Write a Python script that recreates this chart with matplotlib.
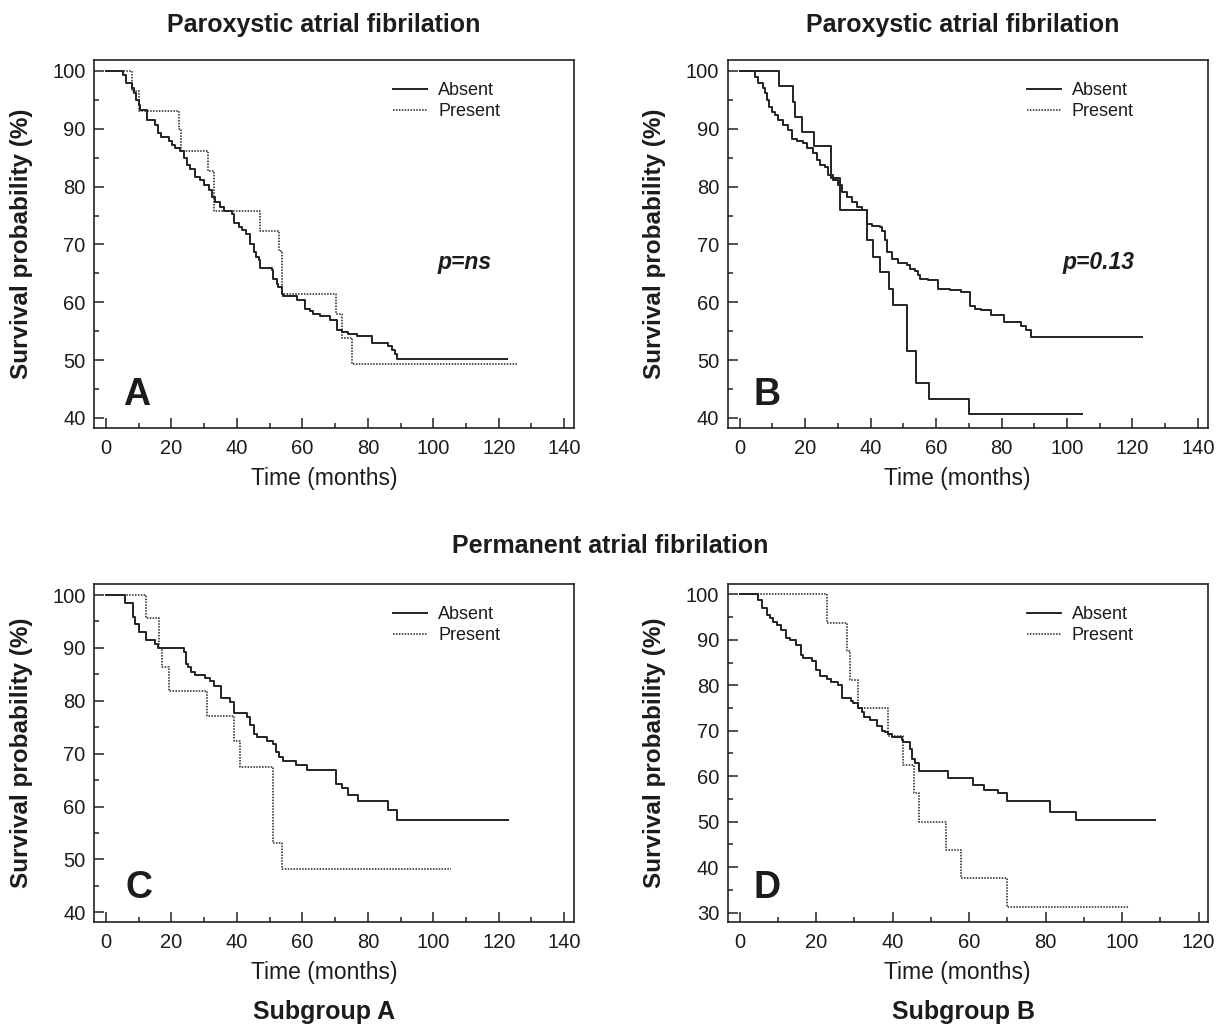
import matplotlib
matplotlib.use("Agg")
import matplotlib.pyplot as plt
from matplotlib.lines import Line2D
from matplotlib.ticker import MultipleLocator

plt.rcParams['font.family'] = ['Liberation Sans', 'DejaVu Sans']

# ---------------- data (months, survival %) ----------------
A_abs_t = [5.09, 6.21, 7.94, 8.44, 9.16, 9.97, 10.48, 12.51, 14.85, 15.87, 16.89, 19.13, 20.14,
           21.16, 22.69, 23.71, 24.72, 25.74, 27.27, 28.79, 29.81, 31.34, 32.35, 33.37, 34.90,
           35.91, 38.46, 39.17, 40.49, 41.51, 42.83, 44.05, 45.07, 45.78, 46.60, 47.10, 50.67,
           51.17, 52.19, 52.70, 53.72, 54.23, 58.30, 60.84, 62.37, 63.38, 65.42, 68.47, 70.51,
           72.03, 74.07, 76.61, 81.19, 86.27, 87.29, 88.31, 89.02]
A_abs_s = [99.31, 97.86, 97.0, 96.13, 94.98, 94.11, 93.25, 91.52, 90.65, 89.21, 88.52, 87.94, 87.19,
           86.73, 86.21, 84.88, 83.73, 82.98, 81.71, 81.13, 80.27, 79.40, 78.25, 77.38, 76.51,
           75.82, 75.25, 73.63, 73.05, 72.48, 71.90, 70.17, 68.72, 67.86, 67.28, 66.01, 65.67,
           64.11, 63.24, 62.67, 61.51, 61.05, 60.47, 58.92, 58.51, 58.05, 57.59, 57.01, 55.28,
           54.88, 54.47, 54.13, 52.97, 52.40, 51.70, 51.13, 50.14]
A_abs_end = 122.6
A_pre_t = [7.94, 9.97, 22.18, 22.89, 31.03, 33.07, 47.10, 53.0, 53.72, 70.30, 72.03, 75.08]
A_pre_s = [96.54, 93.13, 89.90, 86.21, 82.69, 75.82, 72.36, 68.90, 61.51, 57.93, 53.84, 49.28]
A_pre_end = 125.75

B_abs_t = [4.68, 5.70, 7.02, 7.73, 8.44, 8.95, 9.77, 10.78, 11.80, 13.33, 14.85, 15.87, 17.40,
           19.43, 20.45, 22.48, 23.50, 24.52, 26.05, 27.06, 28.59, 30.11, 31.34, 32.66, 34.18,
           35.71, 37.24, 38.76, 40.29, 42.83, 43.54, 44.36, 45.07, 46.39, 48.42, 50.97, 51.99,
           53.52, 54.53, 55.04, 57.58, 60.64, 64.20, 67.76, 70.30, 71.83, 73.86, 76.91, 80.78,
           85.87, 87.60, 88.92]
B_abs_s = [99.02, 97.86, 97.0, 96.13, 94.98, 93.83, 92.96, 92.38, 91.52, 90.65, 89.79, 88.23, 87.88,
           87.48, 86.61, 85.75, 84.59, 83.73, 83.44, 82.0, 81.13, 80.27, 79.11, 78.25, 77.38,
           76.51, 75.94, 73.51, 73.23, 73.05, 72.36, 70.74, 68.72, 67.57, 66.82, 66.42, 65.84,
           65.44, 64.69, 64.11, 63.82, 62.38, 62.09, 61.80, 59.32, 58.92, 58.63, 57.76, 56.61,
           55.92, 55.16, 54.01]
B_abs_end = 122.9
B_pre_t = [12.0, 16.18, 16.89, 19.13, 22.79, 27.88, 30.62, 38.76, 40.80, 42.83, 45.68, 46.70,
           50.97, 53.72, 57.79, 70.10]
B_pre_s = [97.46, 94.58, 91.98, 89.50, 87.02, 81.53, 75.94, 70.74, 67.86, 65.26, 62.38, 59.61,
           51.59, 46.11, 43.34, 40.62]
B_pre_end = 104.7

C_abs_t = [5.90, 8.24, 8.95, 9.97, 12.31, 14.85, 15.87, 23.71, 24.52, 25.03, 26.05, 27.27, 30.32,
           31.84, 33.07, 35.10, 37.95, 38.97, 43.04, 44.05, 45.07, 46.09, 49.14, 51.17, 51.89,
           53.01, 54.23, 58.09, 61.35, 70.30, 72.03, 74.07, 77.12, 86.27, 88.82]
C_abs_s = [98.42, 95.78, 94.45, 93.07, 91.49, 90.67, 90.04, 89.29, 86.95, 86.32, 85.38, 84.87, 84.24,
           83.74, 82.86, 80.47, 79.71, 77.63, 76.87, 75.42, 73.72, 73.09, 72.46, 71.83, 70.38,
           69.31, 68.68, 67.86, 66.91, 64.20, 63.45, 62.19, 61.05, 59.35, 57.46]
C_abs_end = 122.9
C_pre_t = [12.31, 16.07, 17.09, 19.13, 30.83, 38.97, 41.0, 50.97, 53.72]
C_pre_s = [95.71, 90.04, 86.45, 81.85, 77.12, 72.46, 67.54, 53.05, 48.19]
C_pre_end = 105.3

D_abs_t = [4.88, 5.76, 7.06, 7.94, 8.81, 9.68, 10.81, 12.12, 13.17, 14.65, 16.05, 16.66, 19.01,
           19.88, 21.02, 22.76, 23.89, 25.81, 26.86, 29.13, 29.74, 31.05, 31.92, 32.62, 34.10,
           35.84, 37.15, 38.02, 38.89, 39.94, 42.38, 42.82, 44.56, 45.0, 45.87, 47.0, 54.59,
           60.96, 64.01, 67.67, 70.03, 81.19, 88.0]
D_abs_s = [98.75, 96.92, 95.45, 94.72, 93.84, 93.25, 92.15, 90.31, 89.95, 88.85, 86.65, 86.06, 85.33,
           83.34, 82.10, 81.36, 80.63, 80.04, 77.25, 76.52, 76.01, 75.05, 74.17, 73.07, 72.34,
           71.09, 69.99, 69.77, 69.26, 68.67, 67.94, 67.57, 65.96, 63.68, 62.80, 61.19, 59.50,
           58.03, 56.93, 56.20, 54.51, 52.16, 50.33]
D_abs_end = 108.7
D_pre_t = [22.94, 27.99, 28.87, 31.05, 38.89, 42.64, 45.70, 46.92, 53.89, 57.91, 69.85]
D_pre_s = [93.75, 87.5, 81.25, 75.0, 68.75, 62.5, 56.25, 50.0, 43.75, 37.5, 31.25]
D_pre_end = 101.9

series_labels = ["Absent", "Present"]
panel_letters = ["A", "B", "C", "D"]
p_texts = ["p=ns", "p=0.13", None, None]
x_ticks_ABC = [0, 20, 40, 60, 80, 100, 120, 140]
x_ticks_D = [0, 20, 40, 60, 80, 100, 120]

# ---------------- styling ----------------
INK = '#1c1c1c'
LINE = '#222222'
DOT = (0, (1.0, 0.9))

fig = plt.figure(figsize=(12.18, 10.26), dpi=100)
W, H = 1218.0, 1026.0

def ax_at(left, top, right, bottom):
    return fig.add_axes([left / W, 1 - bottom / H, (right - left) / W, (bottom - top) / H])

axA = ax_at(94, 60, 574, 428)
axB = ax_at(727.7, 60, 1207.7, 428)
axC = ax_at(94, 584, 574, 922)
axD = ax_at(727.7, 584, 1207.7, 922)

def km(ax, t, s, end, **kw):
    tt = [0] + list(t) + [end]
    ss = [100] + list(s) + [s[-1]]
    ax.step(tt, ss, where='post', color=LINE, **kw)

panels = [
    (axA, A_abs_t, A_abs_s, A_abs_end, A_pre_t, A_pre_s, A_pre_end, DOT),
    (axB, B_abs_t, B_abs_s, B_abs_end, B_pre_t, B_pre_s, B_pre_end, '-'),
    (axC, C_abs_t, C_abs_s, C_abs_end, C_pre_t, C_pre_s, C_pre_end, DOT),
    (axD, D_abs_t, D_abs_s, D_abs_end, D_pre_t, D_pre_s, D_pre_end, DOT),
]
xlims = [(-3.67, 143.0), (-3.67, 143.0), (-3.67, 143.0), (-3.14, 122.4)]
ylims = [(38.27, 101.9), (38.27, 101.9), (38.17, 102.08), (27.93, 102.27)]
yticks = [range(40, 101, 10), range(40, 101, 10), range(40, 101, 10), range(30, 101, 10)]
xtks = [x_ticks_ABC, x_ticks_ABC, x_ticks_ABC, x_ticks_D]
letter_pos = [(0.060, 0.0625), (0.053, 0.0625), (0.065, 0.071), (0.053, 0.071)]
legend_y = [0.939, 0.939, 0.934, 0.934]

for i, (ax, at, as_, ae, pt, ps, pe, pls) in enumerate(panels):
    km(ax, at, as_, ae, lw=1.4, linestyle='-')
    km(ax, pt, ps, pe, lw=1.1 if pls != '-' else 1.4, linestyle=pls)
    ax.set_xlim(*xlims[i])
    ax.set_ylim(*ylims[i])
    ax.set_xticks(xtks[i])
    ax.set_yticks(list(yticks[i]))
    ax.xaxis.set_minor_locator(MultipleLocator(10))
    ax.yaxis.set_minor_locator(MultipleLocator(5))
    ax.tick_params(which='both', direction='in', top=False, right=False,
                   color=LINE, width=1.1, labelsize=14.5, labelcolor=INK)
    ax.tick_params(which='major', length=7.2)
    ax.tick_params(which='minor', length=3.6)
    ax.tick_params(axis='x', pad=8)
    ax.tick_params(axis='y', pad=6)
    for sp in ax.spines.values():
        sp.set_linewidth(1.2)
        sp.set_color(LINE)
    ax.set_xlabel("Time (months)", fontsize=16.5, color=INK)
    ax.xaxis.set_label_coords(0.479, -0.105 if i < 2 else -0.115)
    ax.set_ylabel("Survival probability (%)", fontsize=17.5, fontweight='bold', color=INK)
    ax.yaxis.set_label_coords(-0.128, 0.5)
    handles = [Line2D([], [], color=LINE, lw=1.4, linestyle='-'),
               Line2D([], [], color=LINE, lw=1.1, linestyle=DOT)]
    ax.legend(handles, series_labels, loc='upper left', bbox_to_anchor=(0.623, legend_y[i]),
              frameon=False, fontsize=13, handlelength=1.9, handletextpad=0.6,
              labelspacing=0.2, borderpad=0, borderaxespad=0, labelcolor=INK)
    lx, ly = letter_pos[i]
    ax.text(lx, ly, panel_letters[i], transform=ax.transAxes,
            fontsize=27, fontweight='bold', color=INK, ha='left', va='baseline')
    if p_texts[i]:
        ax.text(0.772, 0.451, p_texts[i], transform=ax.transAxes,
                fontsize=16.5, fontweight='bold', style='italic', color=INK,
                ha='center', va='center')

fig.text(324 / W, 1 - 25 / H, "Paroxystic atrial fibrilation", fontsize=18, fontweight='bold',
         color=INK, ha='center', va='center')
fig.text(963 / W, 1 - 25 / H, "Paroxystic atrial fibrilation", fontsize=18, fontweight='bold',
         color=INK, ha='center', va='center')
fig.text(610 / W, 1 - 546 / H, "Permanent atrial fibrilation", fontsize=18, fontweight='bold',
         color=INK, ha='center', va='center')
fig.text(324 / W, 1 - 1012 / H, "Subgroup A", fontsize=18, fontweight='bold',
         color=INK, ha='center', va='center')
fig.text(963 / W, 1 - 1012 / H, "Subgroup B", fontsize=18, fontweight='bold',
         color=INK, ha='center', va='center')

fig.savefig("out.png", dpi=100, facecolor='white')
